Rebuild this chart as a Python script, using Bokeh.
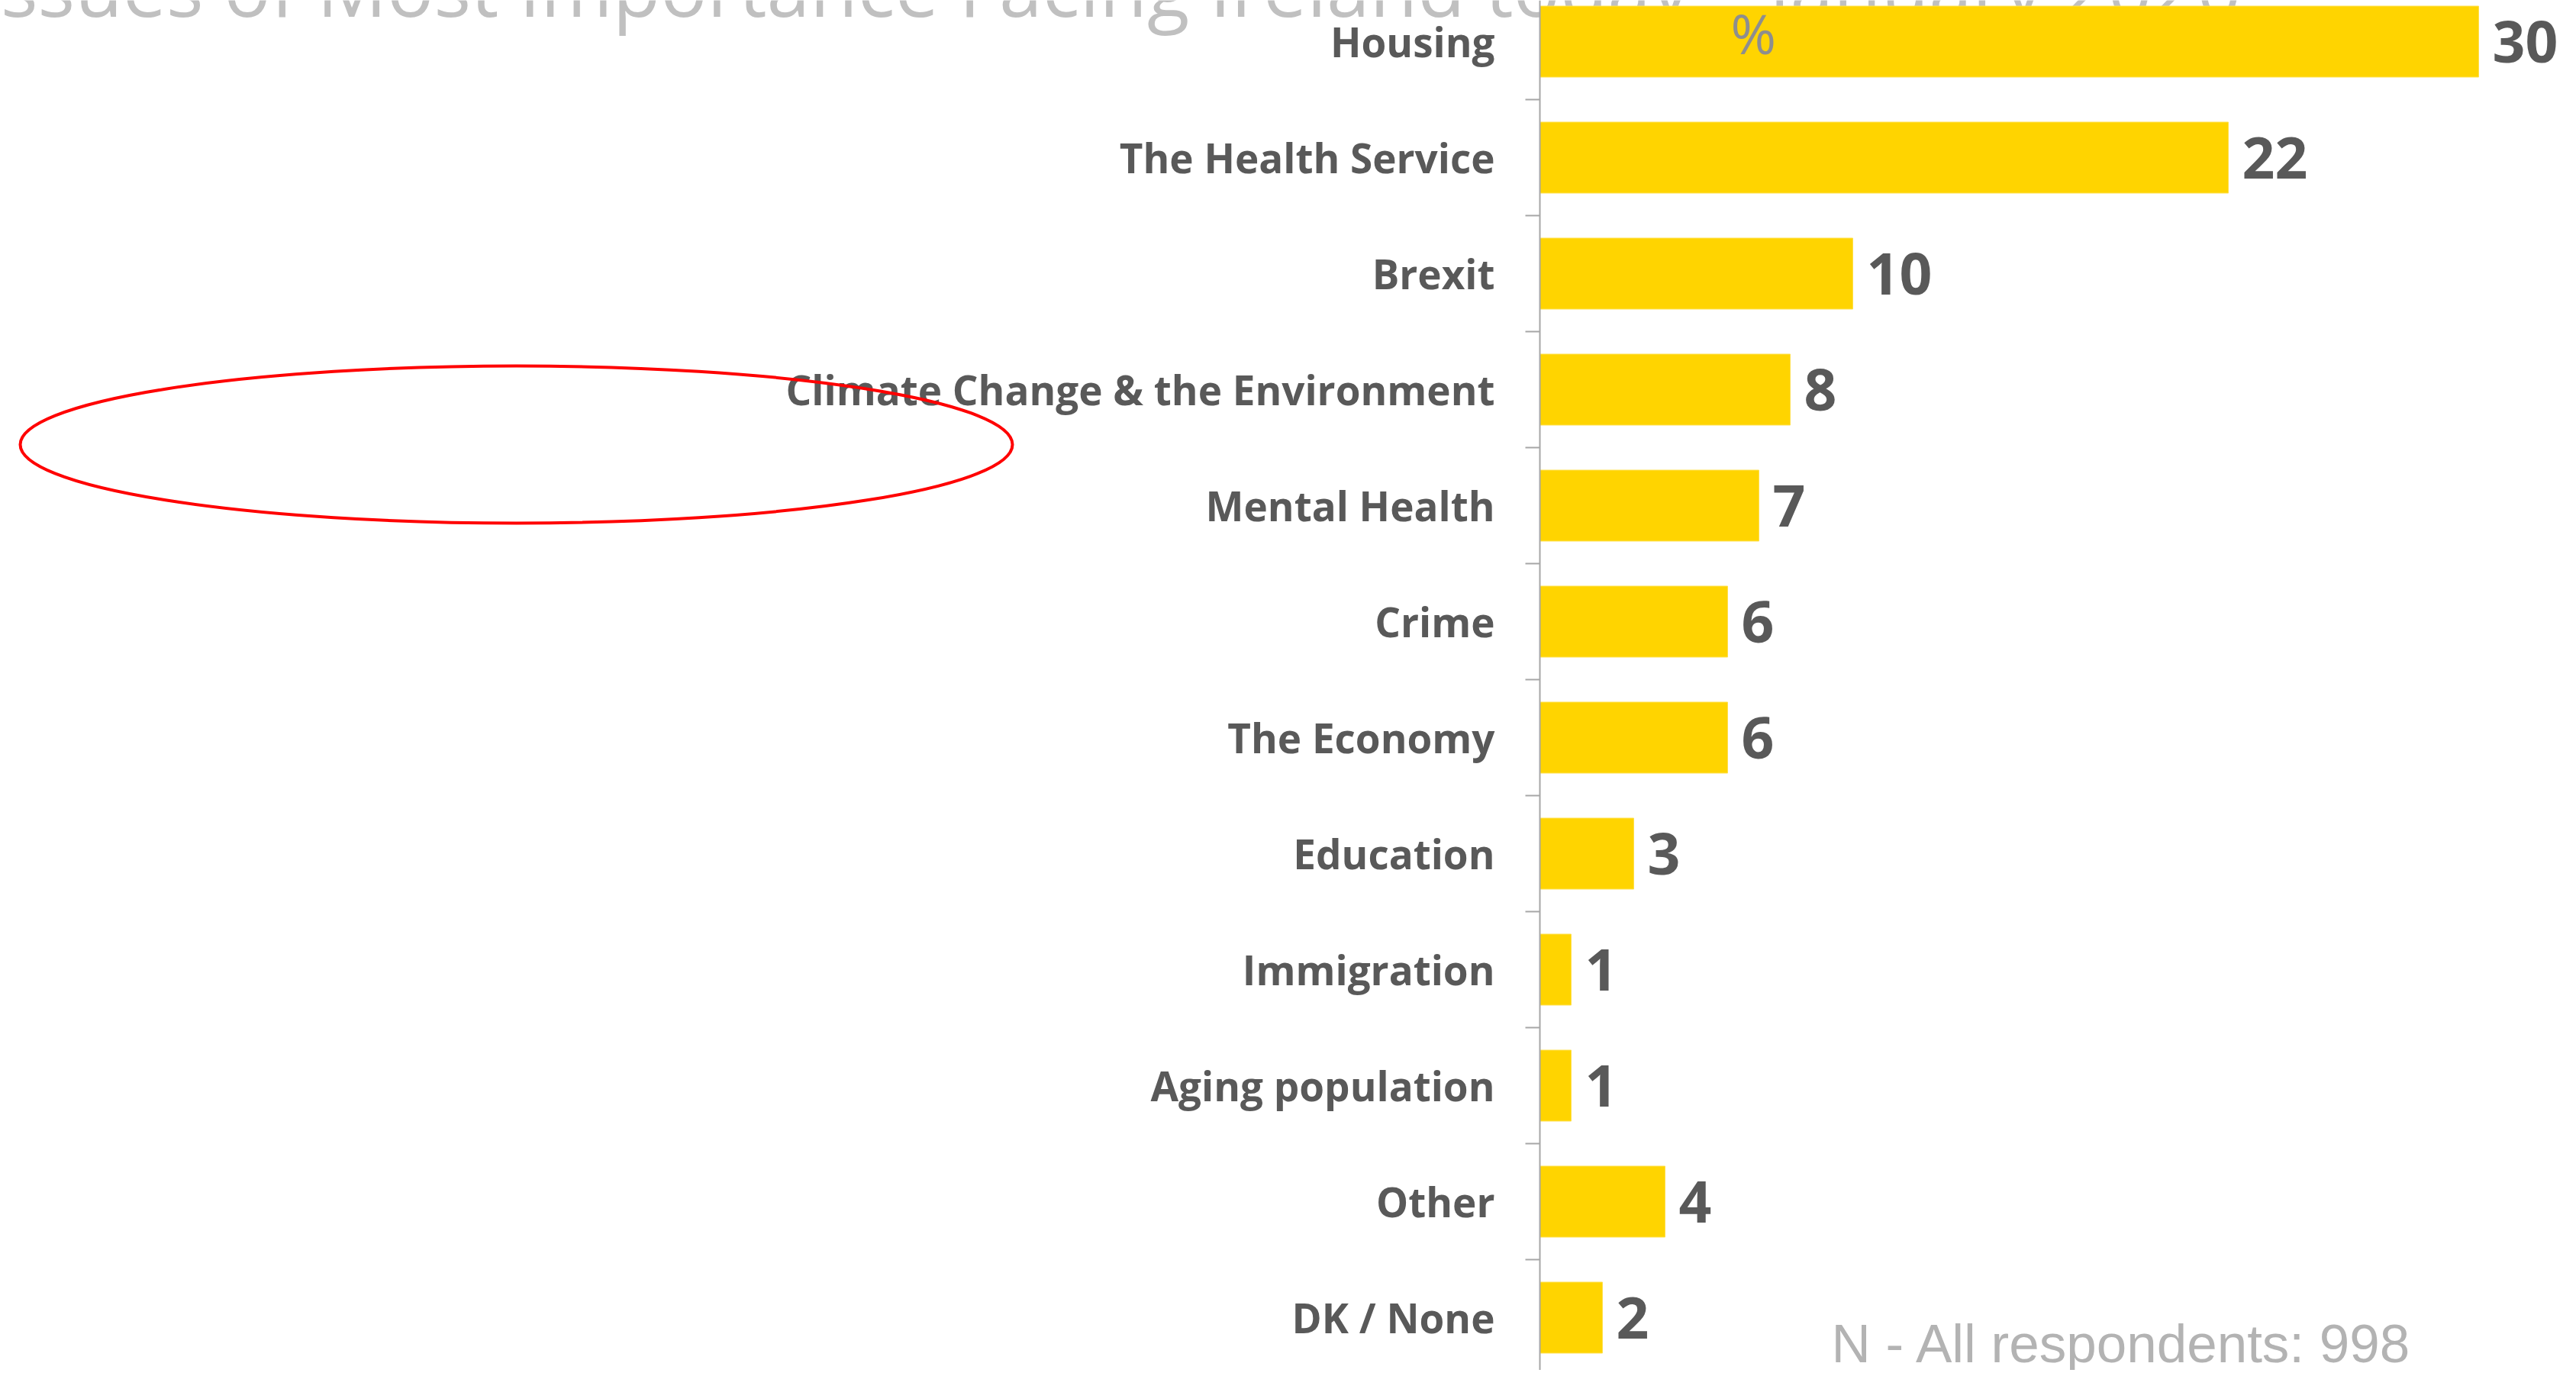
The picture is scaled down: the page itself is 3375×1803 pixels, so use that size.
from bokeh.plotting import figure
from bokeh.models import ColumnDataSource, Range1d, Span
from bokeh.core.properties import value
from bokeh.embed import file_html
from bokeh.resources import INLINE

# ---- data ----
categories = ["Housing", "The Health Service", "Brexit",
              "Climate Change & the Environment", "Mental Health", "Crime",
              "The Economy", "Education", "Immigration", "Aging population",
              "Other", "DK / None"]
values = [30, 22, 10, 8, 7, 6, 6, 3, 1, 1, 4, 2]
title_text = "Issues of Most Importance Facing Ireland today \u2013 January 2020"
unit_label = "%"
base_note = "N - All respondents: 998"

# ---- layout constants (pixels, figure coordinates) ----
W, H = 3367, 1795
PX_X = 41.0       # pixels per percentage point
PX_Y = 152.0      # pixels per category slot
AXIS_X = 2017     # pixel column of the value axis
C0_Y = 54         # pixel row of first category centre


def dx(px):
    return (px - AXIS_X) / PX_X


def dy(py):
    return (py - C0_Y) / PX_Y


idx = list(range(len(categories)))
src = ColumnDataSource(dict(
    y=idx, cat=categories, val=values, lab=[str(v) for v in values]))

p = figure(width=W, height=H, output_backend="svg", toolbar_location=None,
           x_range=Range1d(dx(0), dx(W)), y_range=Range1d(dy(H), dy(0)),
           x_axis_type=None, y_axis_type=None, min_border=0,
           outline_line_color=None, background_fill_color="white",
           border_fill_color="white")
p.grid.visible = False

GRAY_TXT = "#595959"
AXIS_COL = "#A6A6A6"
TITLE_PX = 102

# title (partly cut off at the top, behind the bars)
p.text(x=[dx(20)], y=[dy(22)], text=[title_text],
       x_offset=-48, y_offset=-round(0.388 * TITLE_PX),
       text_font=value("Open Sans"), text_font_size=f"{TITLE_PX}px",
       text_color="#C0C0C0", text_align="left", text_baseline="middle")

# bars
p.hbar(y="y", left=0, right="val", height=93 / PX_Y, source=src,
       fill_color="#FFD400", line_color="#FFE04D", line_width=1)

# axis line and boundary ticks
p.add_layout(Span(location=0, dimension="height", line_color=AXIS_COL, line_width=2))
bounds = [i + 0.5 for i in idx]
p.segment(x0=[-19 / PX_X] * len(bounds), y0=bounds, x1=[0] * len(bounds), y1=bounds,
          line_color=AXIS_COL, line_width=2)

# category labels
p.text(x=0, y="y", text="cat", source=src, x_offset=-59,
       text_font=value("Open Sans"), text_font_style="bold", text_font_size="53px",
       text_color=GRAY_TXT, text_align="right", text_baseline="middle")

# value labels
p.text(x="val", y="y", text="lab", source=src, x_offset=18,
       text_font=value("Open Sans"), text_font_style="bold", text_font_size="75px",
       text_color=GRAY_TXT, text_align="left", text_baseline="middle")

# % marker
p.text(x=[dx(2267)], y=[dy(42)], text=[unit_label],
       text_font=value("Open Sans"), text_font_size="72px",
       text_color="#8E8E8E", text_align="left", text_baseline="middle")

# base note
p.text(x=[dx(2399)], y=[dy(1760)], text=[base_note],
       text_font=value("Liberation Sans"), text_font_size="71px",
       text_color="#B3B3B3", text_align="left", text_baseline="middle")

# red highlight ellipse
p.ellipse(x=[dx(676)], y=[dy(582)], width=[1300 / PX_X], height=[206 / PX_Y],
          fill_color=None, line_color="#FF0000", line_width=4)

open("out.html", "w").write(file_html(p, INLINE))
